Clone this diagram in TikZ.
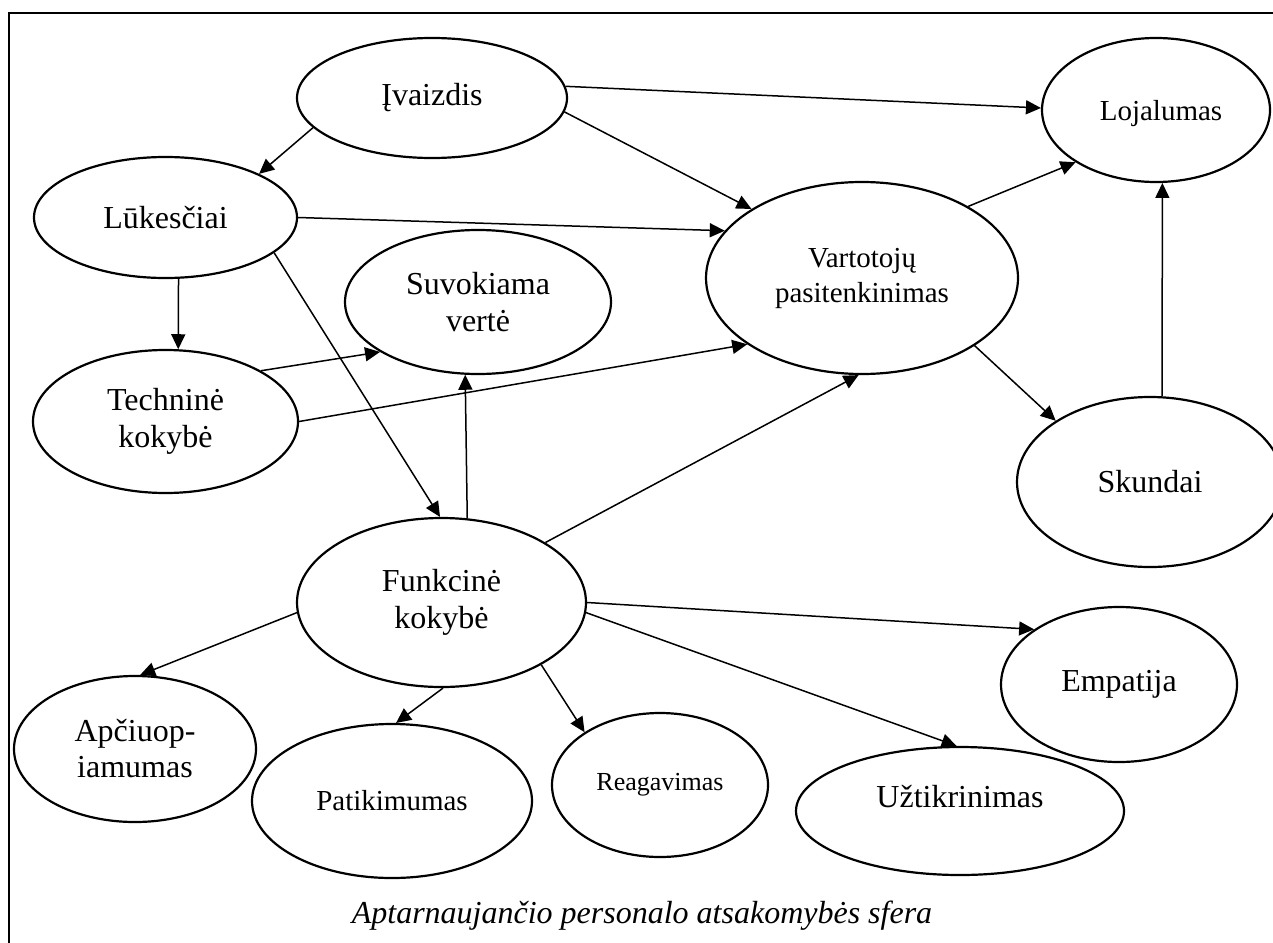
\documentclass[tikz,border=0pt]{standalone}
\usepackage{fontspec}
\setmainfont{Liberation Serif}
\usetikzlibrary{shapes.geometric,arrows.meta}
\begin{document}
\begin{tikzpicture}[x=1pt,y=-1pt,
  oval/.style={ellipse, draw, line width=2.2pt, inner sep=0pt, align=center,
               font=\fontsize{32}{37}\selectfont},
  link/.style={line width=1.5pt, -{Triangle[length=15pt,width=14pt]}},
]
\path[use as bounding box] (0,0) rectangle (1273,942);
% frame
\draw[line width=1.6pt] (9,960) -- (9,13) -- (1290,13);

% nodes
\node[oval, minimum width=270pt, minimum height=120pt] (ivz) at (432,98) {Įvaizdis};
\node[oval, minimum width=263pt, minimum height=121pt] (luk) at (165.5,217.5) {Lūkesčiai};
\node[oval, minimum width=228pt, minimum height=144pt,
      label={[font=\fontsize{29}{33}\selectfont, xshift=5pt, yshift=-3.5pt]center:Lojalumas}] (loj) at (1156,110) {};
\node[oval, minimum width=312pt, minimum height=192pt,
      font=\fontsize{29}{35}\selectfont] (var) at (862,278) {Vartotojų\\pasitenkinimas};
\node[oval, minimum width=266pt, minimum height=144pt] (suv) at (478,302) {Suvokiama\\vertė};
\node[oval, minimum width=265pt, minimum height=143pt] (tec) at (165.5,421.5) {Techninė\\kokybė};
\node[oval, minimum width=266pt, minimum height=170pt] (sku) at (1150,482) {Skundai};
\node[oval, minimum width=289pt, minimum height=169pt] (fun) at (441.5,602.5) {Funkcinė\\kokybė};
\node[oval, minimum width=242pt, minimum height=146pt, font=\fontsize{32}{36}\selectfont] (apc) at (135,749) {Apčiuop-\\iamumas};
\node[oval, minimum width=280pt, minimum height=154pt,
      font=\fontsize{29}{33}\selectfont] (pat) at (392,801) {Patikimumas};
\node[oval, minimum width=216pt, minimum height=144pt,
      font=\fontsize{26}{30}\selectfont] (rea) at (660,785) {Reagavimas};
\node[oval, minimum width=328pt, minimum height=128pt,
      label={[font=\fontsize{32}{37}\selectfont, yshift=14pt]center:Užtikrinimas}] (uzt) at (960,811) {};
\node[oval, minimum width=236pt, minimum height=155pt] (emp) at (1119,684.5) {Empatija};

% caption
\node[font=\fontsize{32}{36}\selectfont\itshape] (cap) at (642,916) {Aptarnaujančio personalo atsakomybės sfera};

% connectors
\draw[link] (ivz.194) -- (luk.25.2);
\draw[link] (ivz.5) -- (loj.179.5);
\draw[link] (ivz.-6.4) -- (var.148.3);
\draw[link] (luk.0) -- (var.161.8);
\draw[link] (luk.-78.3) -- (tec.80.1);
\draw[link] (luk.-18.3) -- (fun.91);
\draw[link] (tec.28.6) -- (suv.207.8);
\draw[link] (tec.-0.2) -- (var.210.9);
\draw[link] (fun.73.8) -- (suv.260.5);
\draw[link] (fun.30.7) -- (var.268.8);
\draw[link] (var.34.1) -- (loj.213.4);
\draw[link] (var.-31.9) -- (sku.147.7);
\draw[link] (sku.82) -- (loj.-85.2);
\draw[link] (fun.-0.2) -- (emp.147.6);
\draw[link] (fun.-4.9) -- (uzt.93.6);
\draw[link] (fun.-32.1) -- (rea.145.8);
\draw[link] (fun.-89.7) -- (pat.87.1);
\draw[link] (fun.184.6) -- (apc.86.8);
\end{tikzpicture}
\end{document}
